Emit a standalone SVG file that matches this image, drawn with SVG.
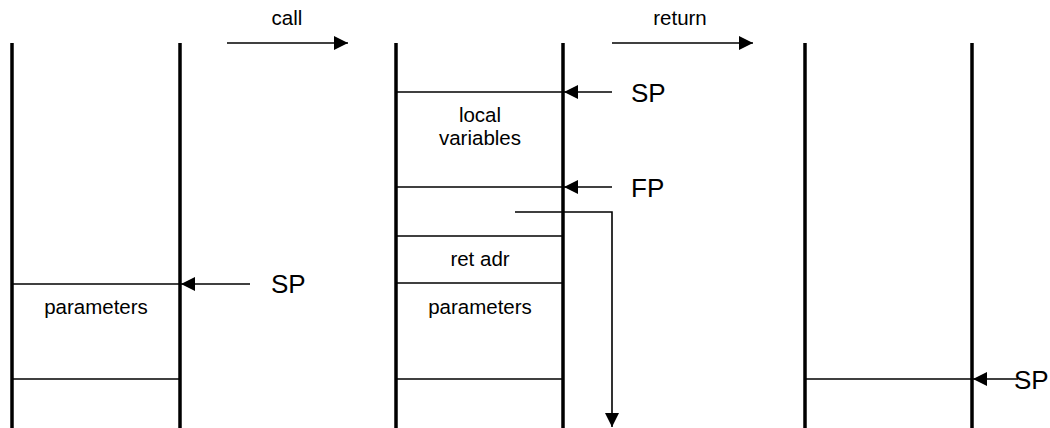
<svg xmlns="http://www.w3.org/2000/svg" width="1050" height="428" viewBox="0 0 1050 428">
<style>
.wall{stroke:#000;stroke-width:3.5;fill:none}
.row{stroke:#000;stroke-width:1.6;fill:none}
.conn{stroke:#000;stroke-width:1.6;fill:none}
.s{font-family:"Liberation Sans",Arial,sans-serif;font-size:20.5px;fill:#000;text-anchor:middle}
.b{font-family:"Liberation Sans",Arial,sans-serif;font-size:26px;fill:#000}
</style>
<defs>
<marker id="ahb" viewBox="0 0 10 10" refX="10" refY="5" markerWidth="16" markerHeight="14" markerUnits="userSpaceOnUse" orient="auto">
<path d="M0,0 L10,5 L0,10 Z" fill="#000"/>
</marker>
</defs>
<rect width="1050" height="428" fill="#fff"/>
<g id="stack1">
<line class="wall" x1="12" y1="43" x2="12" y2="428"/>
<line class="wall" x1="180" y1="43" x2="180" y2="428"/>
<line class="row" x1="12" y1="284" x2="179" y2="284"/>
<line class="row" x1="12" y1="379" x2="179" y2="379"/>
<text class="s" x="96" y="314">parameters</text>
</g>
<g id="stack2">
<line class="wall" x1="396" y1="43" x2="396" y2="428"/>
<line class="wall" x1="563" y1="43" x2="563" y2="428"/>
<line class="row" x1="396" y1="92" x2="562" y2="92"/>
<line class="row" x1="396" y1="187" x2="562" y2="187"/>
<line class="row" x1="396" y1="236" x2="562" y2="236"/>
<line class="row" x1="396" y1="283" x2="562" y2="283"/>
<line class="row" x1="396" y1="379" x2="562" y2="379"/>
<text class="s" x="480" y="122">local</text>
<text class="s" x="480" y="145">variables</text>
<text class="s" x="480" y="266">ret adr</text>
<text class="s" x="480" y="314">parameters</text>
</g>
<g id="stack3">
<line class="wall" x1="805" y1="43" x2="805" y2="428"/>
<line class="wall" x1="972" y1="43" x2="972" y2="428"/>
<line class="row" x1="805" y1="379" x2="971" y2="379"/>
</g>
<g id="labels">
<text class="s" x="287" y="25">call</text>
<text class="s" x="680" y="25">return</text>
<text class="b" x="271" y="293">SP</text>
<text class="b" x="631" y="102">SP</text>
<text class="b" x="631" y="197">FP</text>
<text class="b" x="1014" y="389">SP</text>
</g>
<g id="connectors">
<line class="conn" x1="227" y1="43" x2="348" y2="43" marker-end="url(#ahb)"/>
<line class="conn" x1="612" y1="43" x2="753" y2="43" marker-end="url(#ahb)"/>
<line class="conn" x1="250" y1="284" x2="181" y2="284" marker-end="url(#ahb)"/>
<line class="conn" x1="612" y1="92" x2="564" y2="92" marker-end="url(#ahb)"/>
<line class="conn" x1="612" y1="187" x2="564" y2="187" marker-end="url(#ahb)"/>
<line class="conn" x1="1018" y1="379" x2="973" y2="379" marker-end="url(#ahb)"/>
<polyline class="conn" points="515,212 612,212 612,427" marker-end="url(#ahb)"/>
</g>
</svg>
